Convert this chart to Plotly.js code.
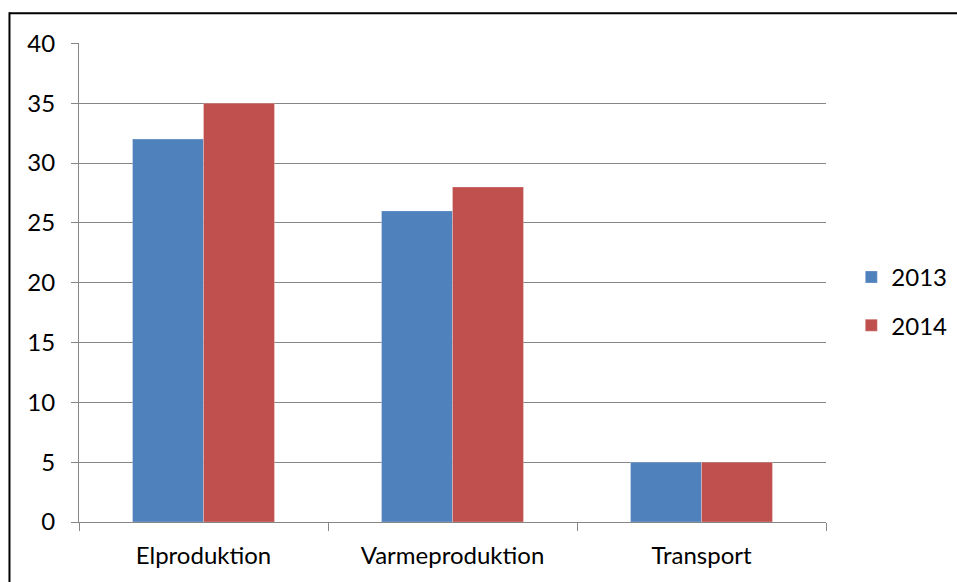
<!DOCTYPE html>
<html>
<head>
<meta charset="utf-8">
<script src="https://cdn.plot.ly/plotly-3.0.1.min.js"></script>
<style>html,body{margin:0;padding:0;background:#fff;}#chart{width:957px;height:582px;}</style>
</head>
<body>
<div id="chart"></div>
<script>
const categories = ["Elproduktion", "Varmeproduktion", "Transport"];
const seriesNames = ["2013", "2014"];
const values2013 = [32, 26, 5];
const values2014 = [35, 28, 5];
const yTicks = [0, 5, 10, 15, 20, 25, 30, 35, 40];

const fontFam = "Lato, 'Open Sans', sans-serif";
const fs = 24;
const traces = [
  {type: "bar", name: seriesNames[0], x: categories, y: values2013, legendgroup: "a",
   marker: {color: "#4F81BD", line: {color: "rgba(255,255,255,0.5)", width: 0.5}}, hoverinfo: "skip"},
  {type: "bar", name: seriesNames[1], x: categories, y: values2014, legendgroup: "b",
   marker: {color: "#C0504D", line: {color: "rgba(255,255,255,0.5)", width: 0.5}}, hoverinfo: "skip"}
];

const L = 79, R = 825.7, T = 42.5, B = 521.7;
const W = R - L, H = B - T;
const layout = {
  width: 957, height: 582,
  margin: {l: L, r: 957 - R, t: T, b: 582 - B, pad: 0, autoexpand: false},
  paper_bgcolor: "#fff", plot_bgcolor: "#fff",
  font: {family: fontFam, size: fs, color: "#000"},
  barmode: "group", bargap: 0.43, bargroupgap: 0,
  showlegend: true,
  legend: {x: (851 - L) / W, y: (B - 301) / H, xanchor: "left", yanchor: "middle",
           traceorder: "grouped", tracegroupgap: 14, font: {size: fs, family: fontFam},
           itemwidth: 30, bgcolor: "rgba(0,0,0,0)"},
  xaxis: {type: "category", showgrid: false, showline: true, linecolor: "#868686", linewidth: 1,
          ticks: "outside", tickson: "boundaries", ticklen: 8, tickcolor: "#868686", tickwidth: 1,
          ticklabelstandoff: 12, automargin: false,
          tickfont: {size: fs, family: fontFam}, zeroline: false, fixedrange: true},
  yaxis: {range: [0, 40.03], tickvals: yTicks, ticktext: yTicks.map(String), showgrid: true,
          gridcolor: "#868686", gridwidth: 1, showline: true, linecolor: "#868686", linewidth: 1,
          ticks: "outside", ticklen: 7, tickcolor: "#868686", tickwidth: 1,
          ticklabelstandoff: 11, automargin: false,
          zeroline: false, tickfont: {size: fs, family: fontFam}, fixedrange: true},
  shapes: [
    {type: "line", xref: "paper", yref: "paper", x0: (9.5 - L) / W, x1: (960 - L) / W,
     y0: 1 + (T - 12.7) / H, y1: 1 + (T - 12.7) / H, line: {color: "#000", width: 2}},
    {type: "line", xref: "paper", yref: "paper", x0: (9.5 - L) / W, x1: (9.5 - L) / W,
     y0: 1 + (T - 11.7) / H, y1: (B - 590) / H, line: {color: "#000", width: 2}}
  ]
};
Plotly.newPlot("chart", traces, layout, {displayModeBar: false, staticPlot: true});
</script>
</body>
</html>
